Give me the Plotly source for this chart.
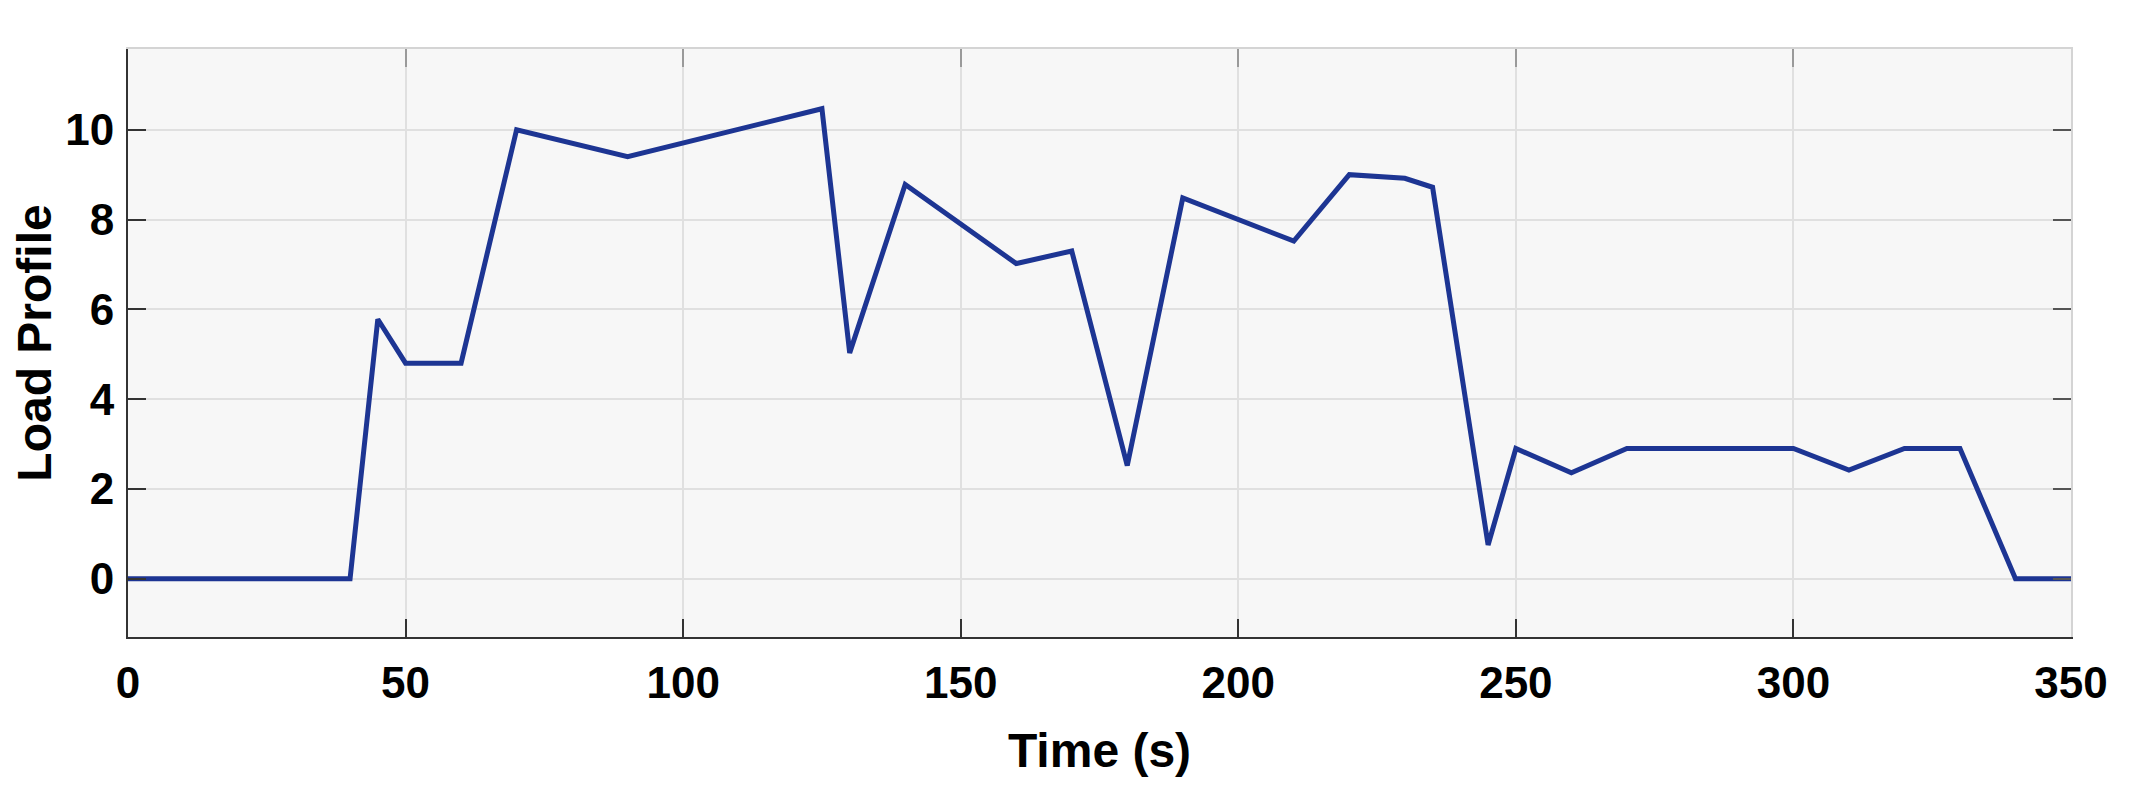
import plotly.graph_objects as go

time_s = [0, 40, 45, 50, 60, 70, 90, 125, 130, 140, 160, 170, 180, 190, 210,
          220, 230, 235, 245, 250, 260, 270, 300, 310, 320, 330, 340, 350]
load = [0, 0, 5.78, 4.8, 4.8, 10.0, 9.4, 10.47, 5.03, 8.78, 7.02, 7.3, 2.52, 8.48, 7.52,
        9.0, 8.92, 8.72, 0.75, 2.9, 2.36, 2.9, 2.9, 2.42, 2.9, 2.9, 0, 0]

x_ticks = [0, 50, 100, 150, 200, 250, 300, 350]
y_ticks = [0, 2, 4, 6, 8, 10]
x_range = [0, 350]
y_range = [-1.3, 11.8]

LINE = "#1d3593"
FONT = "Liberation Sans"

fig = go.Figure()
fig.add_trace(go.Scatter(x=time_s, y=load, mode="lines",
                         line=dict(color=LINE, width=5), showlegend=False,
                         hoverinfo="x+y"))
# invisible copy to activate mirrored top/right axes (ticks only)
fig.add_trace(go.Scatter(x=time_s, y=load, mode="lines", xaxis="x2", yaxis="y2",
                         line=dict(color="rgba(0,0,0,0)", width=0), showlegend=False,
                         hoverinfo="skip"))

fig.update_layout(
    width=2117, height=781,
    margin=dict(l=117, r=54, t=41, b=152),
    paper_bgcolor="white", plot_bgcolor="#f7f7f7",
    font=dict(family=FONT, color="black"),
    xaxis=dict(range=x_range, tickvals=x_ticks, ticks="inside", ticklen=18, tickwidth=2,
               tickcolor="#333333", showline=True, linecolor="#333333", linewidth=2,
               showgrid=True, gridcolor="#e0e0e0", gridwidth=1.5, zeroline=False,
               tickfont=dict(family=FONT, size=44, color="black", weight="bold"),
               ticklabelstandoff=6,
               title=dict(text="<b>Time (s)</b>", font=dict(family=FONT, size=48, color="black"),
                          standoff=28)),
    yaxis=dict(range=y_range, tickvals=y_ticks, ticks="inside", ticklen=18, tickwidth=2,
               tickcolor="#333333", showline=True, linecolor="#333333", linewidth=2,
               showgrid=True, gridcolor="#e0e0e0", gridwidth=1.5, zeroline=False,
               tickfont=dict(family=FONT, size=44, color="black", weight="bold"),
               ticklabelstandoff=3,
               title=dict(text="<b>Load Profile</b>", font=dict(family=FONT, size=48, color="black"),
                          standoff=12)),
    xaxis2=dict(range=x_range, tickvals=x_ticks, overlaying="x", side="top",
                ticks="inside", ticklen=18, tickwidth=2, tickcolor="#9a9a9a",
                showline=True, linecolor="#d4d4d4", linewidth=2, showticklabels=False,
                showgrid=False, zeroline=False),
    yaxis2=dict(range=y_range, tickvals=y_ticks, overlaying="y", side="right",
                ticks="inside", ticklen=18, tickwidth=2, tickcolor="#555555",
                showline=True, linecolor="#d4d4d4", linewidth=2, showticklabels=False,
                showgrid=False, zeroline=False),
)

fig.write_html("out.html")
